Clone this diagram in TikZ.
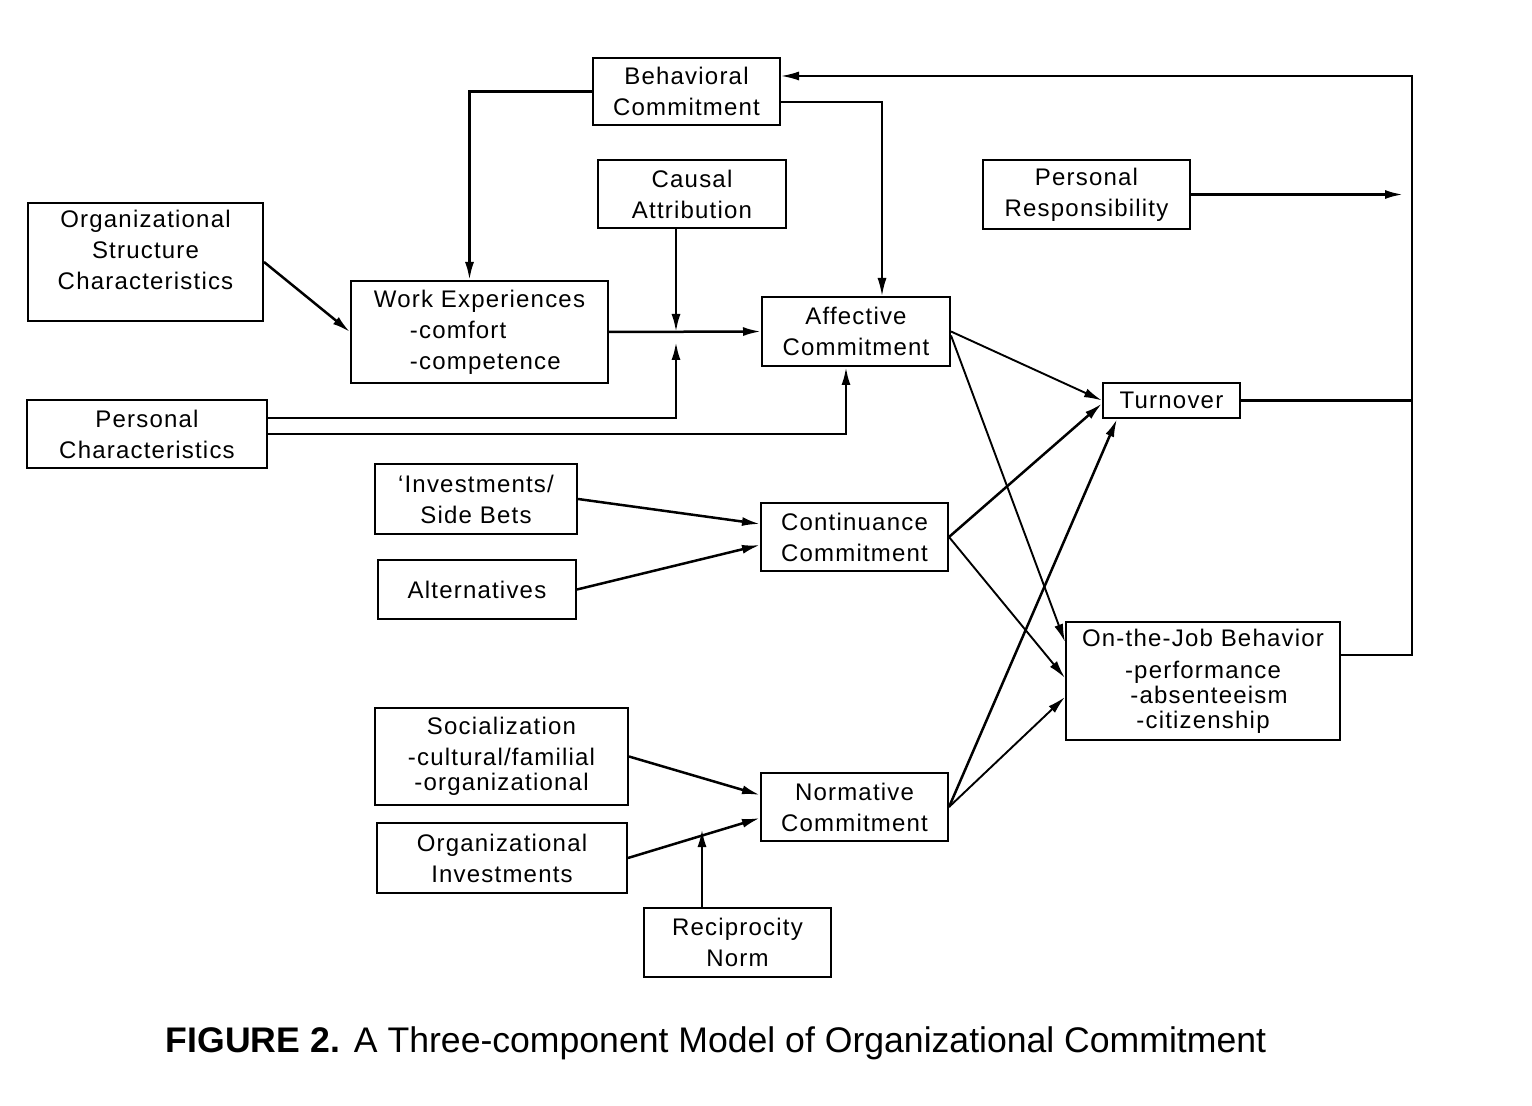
\documentclass[tikz,border=0pt]{standalone}
\usepackage{fontspec}
\setmainfont{Liberation Sans}
\newfontfamily\boxfont[LetterSpace=5]{Liberation Sans}
\usetikzlibrary{arrows.meta}

\begin{document}
\begin{tikzpicture}[x=0.5pt,y=-0.5pt,
		box/.style={rectangle,draw,line width=1pt,align=center,inner sep=2pt,
			font=\boxfont\fontsize{12}{15.5}\selectfont},
		link/.style={-{Latex[length=9pt,width=4.5pt]},line width=1.25pt},
		thin link/.style={link,line width=0.95pt},
		plain link/.style={line width=1.2pt}]
		
		\useasboundingbox (0,0) rectangle (1532,1106);
		
		% boxes
		\node[box,minimum width=93.5pt,minimum height=33.5pt] (bc) at (686.5,91.5) {Behavioral\\Commitment};
		\node[box,minimum width=94pt,minimum height=34pt] (ca) at (692,194) {Causal\\Attribution};
		\node[box,minimum width=117.5pt,minimum height=59pt] (osc) at (145.5,262) {Organizational\\Structure\\Characteristics\rule[-12pt]{0pt}{0pt}};
		\node[box,minimum width=128.5pt,minimum height=51pt,align=left] (we) at (479.5,332) {Work Experiences\\\hspace*{18pt}-comfort\\\hspace*{18pt}-competence};
		\node[box,minimum width=94pt,minimum height=34.5pt] (ac) at (856,331.5) {Affective\\Commitment};
		\node[box,minimum width=120pt,minimum height=34pt] (pc) at (147,434) {Personal\\Characteristics};
		\node[box,minimum width=103.5pt,minimum height=34.5pt] (pr) at (1086.5,194.5) {Personal\\Responsibility};
		\node[box,minimum width=68.5pt,minimum height=17.5pt] (to) at (1171.5,400.5) {Turnover};
		\node[box,minimum width=101pt,minimum height=35pt] (isb) at (476,499) {‘Investments/\\Side Bets};
		\node[box,minimum width=93.5pt,minimum height=34pt] (cc) at (854.5,537) {Continuance\\Commitment};
		\node[box,minimum width=99pt,minimum height=29.5pt] (alt) at (477,589.5) {Alternatives};
		\node[box,minimum width=137pt,minimum height=59pt,
			font=\boxfont\fontsize{12}{12.5}\selectfont] (ojb) at (1203,681) {On-the-Job Behavior\\[3.5pt]-performance\\\hspace*{6pt}-absenteeism\\-citizenship};
		\node[box,minimum width=126.5pt,minimum height=48.5pt,
			font=\boxfont\fontsize{12}{12.5}\selectfont] (soc) at (501.5,756.5) {Socialization\\[3pt]-cultural/familial\\-organizational};
		\node[box,minimum width=125pt,minimum height=35pt] (oi) at (502,858) {Organizational\\Investments};
		\node[box,minimum width=93.5pt,minimum height=34pt] (nc) at (854.5,807) {Normative\\Commitment};
		\node[box,minimum width=93.5pt,minimum height=34.5pt] (rn) at (737.5,942.5) {Reciprocity\\Norm};
		
		% helper points
		\coordinate (fbtop) at (1412,76);
		\coordinate (jn) at ([xshift=-8pt]ca.south |- we.east);
		
		% antecedents of affective commitment
		\draw[link] (bc.west) -| ([xshift=-5pt]we.north);
		\draw[thin link] ([yshift=-5.25pt]bc.east) -| ([xshift=13pt]ac.north);
		\draw[link] (osc.east) -- (we.west);
		\draw[link] (we.east) -- (ac.west);
		\draw[link] ([xshift=-8pt]ca.south) -- (jn);
		\draw[link] ([yshift=8pt]pc.east) -| ([yshift=-5pt]jn);
		\draw[link] (pc.east) -| ([xshift=-5pt]ac.south);
		
		% continuance and normative
		\draw[link] (isb.east) -- ([yshift=6.5pt]cc.west);
		\draw[link] (alt.east) -- ([yshift=-4pt]cc.west);
		\draw[link] (soc.east) -- ([yshift=6pt]nc.west);
		\draw[link] (oi.east) -- ([yshift=-5.5pt]nc.west);
		\draw[link] ([xshift=-17.75pt]rn.north) -- ([xshift=-17.75pt,yshift=39pt]rn.north);
		
		% consequences
		\draw[thin link] (ac.east) -- (to.west);
		\draw[thin link] ([yshift=-2pt]ac.east) -- ([yshift=19.5pt]ojb.west);
		\draw[link] (cc.east) -- ([yshift=-1.5pt]to.west);
		\draw[thin link] (cc.east) -- ([yshift=1.5pt]ojb.west);
		\draw[link] (nc.east) -- ([xshift=7.5pt]to.south west);
		\draw[thin link] (nc.east) -- ([yshift=-8pt]ojb.west);
		
		% feedback to behavioral commitment
		\draw[plain link] (to.east) -- (to.east -| fbtop);
		\draw[thin link] ([yshift=13pt]ojb.east) -| (fbtop) -- (fbtop -| bc.east);
		\draw[link] (pr.east) -- ([xshift=-4.5pt]pr.east -| fbtop);
		
		% caption
		\node[anchor=base,font=\fontsize{17.8}{20}\selectfont] (caption) at (716,1052)
		{\textbf{FIGURE 2.}\hspace{7pt}A Three-component Model of Organizational Commitment};
		\end{tikzpicture}
\end{document}
